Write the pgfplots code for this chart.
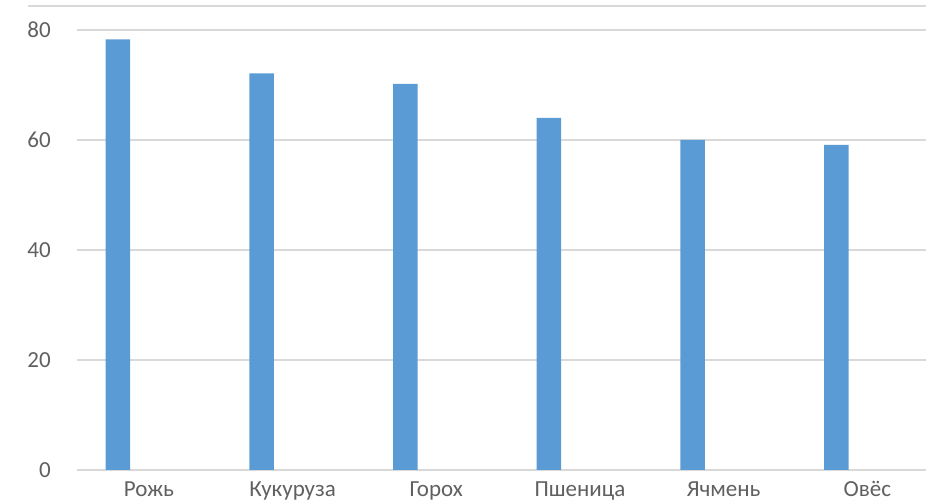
\documentclass[border=0pt]{standalone}
\usepackage{pgfplots}
\pgfplotsset{compat=1.18}
\usepackage{fontspec}
\setmainfont{Carlito}
\definecolor{barblue}{HTML}{5B9BD5}
\definecolor{gridgray}{HTML}{D9D9D9}
\definecolor{txtgray}{HTML}{606060}
\begin{document}
\begin{tikzpicture}[x=1pt,y=1pt]
\useasboundingbox (-77,-32) rectangle (849,470);
\draw[gridgray, line width=1.5pt] (-49,464) -- (849,464);
\begin{axis}[
  at={(0,0)}, anchor=south west,
  scale only axis, width=849pt, height=440pt,
  xmin=-0.5, xmax=5.408, ymin=0, ymax=80,
  clip=false,
  axis line style={draw=none},
  major tick length=0pt,
  ymajorgrids, grid style={gridgray, line width=1.5pt},
  ytick={0,20,40,60,80},
  xtick={0,1,2,3,4,5},
  xticklabels={Рожь,Кукуруза,Горох,Пшеница,Ячмень,Овёс},
  /pgf/number format/assume math mode=true,
  every tick label/.append style={font=\fontsize{23}{27}\selectfont, text=txtgray, inner sep=0pt},
  xticklabel style={anchor=base, yshift=-27pt},
  yticklabel style={anchor=east, xshift=-26pt},
  ybar, bar width=24.5pt,
]
\addplot[fill=barblue, draw=none, bar shift=-31pt] coordinates {(0,78.3) (1,72.1) (2,70.2) (3,64.0) (4,60.0) (5,59.1)};
\end{axis}
\end{tikzpicture}
\end{document}
